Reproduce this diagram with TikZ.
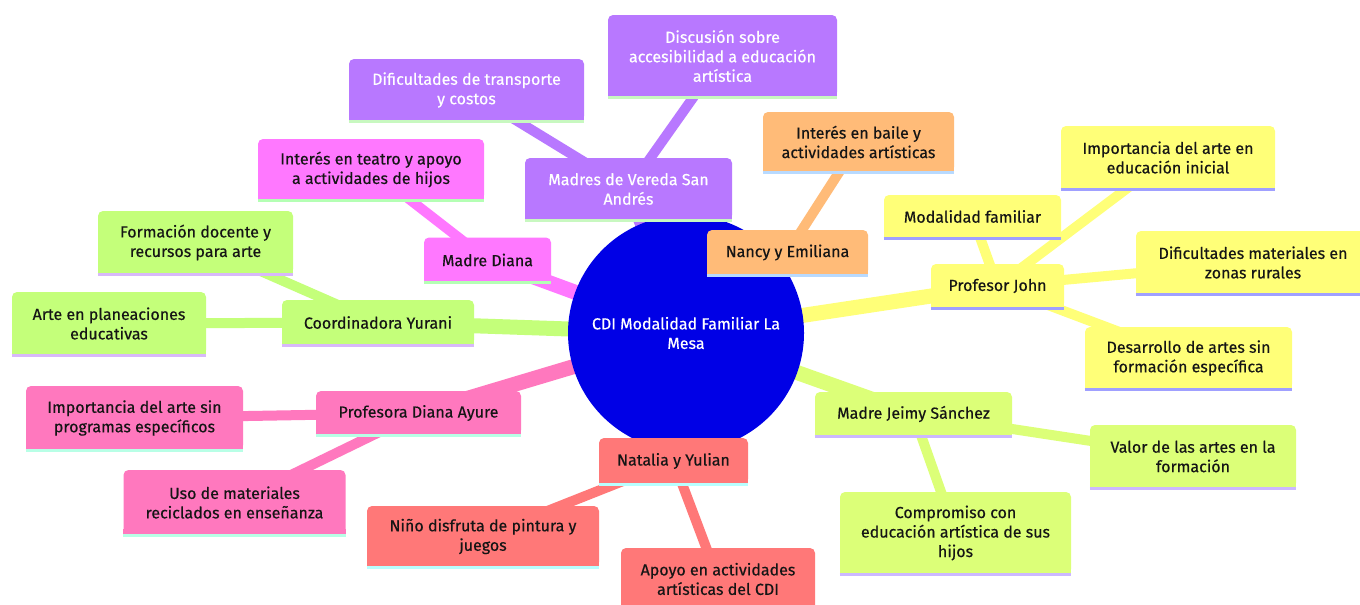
\documentclass[tikz,border=0pt]{standalone}
\usepackage{fontspec}
\setmainfont{Fira Sans}[FakeBold=0.4]
\usetikzlibrary{backgrounds}
\definecolor{cPur}{HTML}{B878FF}
\definecolor{cMag}{HTML}{FF78FF}
\definecolor{cGrn}{HTML}{C4FF7A}
\definecolor{cPnk}{HTML}{FF78BE}
\definecolor{cRed}{HTML}{FF7878}
\definecolor{cLim}{HTML}{DCFF78}
\definecolor{cYel}{HTML}{FFFF78}
\definecolor{cOrg}{HTML}{FFBB78}
\definecolor{cRoot}{HTML}{0000E6}
\definecolor{uPur}{HTML}{C8F8C0}
\definecolor{uMag}{HTML}{B4FFB4}
\definecolor{uGrn}{HTML}{D8B8FA}
\definecolor{uPnk}{HTML}{B8FFE6}
\definecolor{uRed}{HTML}{B8FFFF}
\definecolor{uLim}{HTML}{CCB8FF}
\definecolor{uYel}{HTML}{A0A0FF}
\definecolor{uOrg}{HTML}{B8DAFF}
\definecolor{txt}{HTML}{151515}
\tikzset{
  mm/.style={rectangle, rounded corners=5pt, inner sep=0pt, align=center,
    font=\fontsize{16pt}{19.5pt}\selectfont, text=txt},
  sPur/.style={fill=cPur, text=white},
  sMag/.style={fill=cMag},
  sGrn/.style={fill=cGrn},
  sPnk/.style={fill=cPnk},
  sRed/.style={fill=cRed},
  sLim/.style={fill=cLim},
  sYel/.style={fill=cYel},
  sOrg/.style={fill=cOrg},
  edgeA/.style={line width=15pt},
  edgeB/.style={line width=10pt},
  rootnode/.style={circle, fill=cRoot, text=white, inner sep=0pt, minimum size=236pt,
    align=center, font=\fontsize{16pt}{19.5pt}\selectfont}
}
% name, x, y, w, h, style, underline colour, text
\newcommand\mmn[8]{%
  \node[mm, #6, minimum width=#4pt, minimum height=#5pt] (#1) at (#2,#3) {#8};
  \fill[#6] ([yshift=6pt]#1.south west) rectangle (#1.south east);
  \draw[#7, line width=3pt] (#1.south west) -- (#1.south east);
}
\begin{document}
\begin{tikzpicture}[x=1pt,y=-1pt]
\useasboundingbox (0,0) rectangle (1360,605);

\node[rootnode] (root) at (686,333) {CDI Modalidad Familiar La\\Mesa};

\mmn{vereda}{628.5}{189}{207}{62}{sPur}{uPur}{Madres de Vereda San\\Andrés}
\mmn{transp}{466.5}{90}{235}{62}{sPur}{uPur}{Dificultades de transporte\\y costos}
\mmn{discus}{722.5}{56}{229}{82}{sPur}{uPur}{Discusión sobre\\accesibilidad a educación\\artística}

\mmn{mdiana}{487.5}{260}{127}{45}{sMag}{uMag}{Madre Diana}
\mmn{teatro}{371}{169.5}{226}{61}{sMag}{uMag}{Interés en teatro y apoyo\\a actividades de hijos}

\mmn{yurani}{378}{322.5}{192}{45}{sGrn}{uGrn}{Coordinadora Yurani}
\mmn{formac}{195.5}{242.5}{195}{63}{sGrn}{uGrn}{Formación docente y\\recursos para arte}
\mmn{planea}{109}{323.5}{194}{63}{sGrn}{uGrn}{Arte en planeaciones\\educativas}

\mmn{ayure}{418.5}{413}{205}{44}{sPnk}{uPnk}{Profesora Diana Ayure}
\mmn{imparte}{134.5}{418}{217}{64}{sPnk}{uPnk}{Importancia del arte sin\\programas específicos}
\mmn{recicl}{234.5}{502.5}{222}{65}{sPnk}{uPnk}{Uso de materiales\\reciclados en enseñanza}

\mmn{natalia}{673.5}{461}{149}{46}{sRed}{uRed}{Natalia y Yulian}
\mmn{nino}{483}{536.5}{232}{61}{sRed}{uRed}{Niño disfruta de pintura y\\juegos}
\mmn{apoyo}{718}{579}{194}{62}{sRed}{uRed}{Apoyo en actividades\\artísticas del CDI}

\mmn{jeimy}{913.5}{414}{197}{44}{sLim}{uLim}{Madre Jeimy Sánchez}
\mmn{valor}{1193}{456.5}{206}{63}{sLim}{uLim}{Valor de las artes en la\\formación}
\mmn{compro}{955.5}{533}{231}{82}{sLim}{uLim}{Compromiso con\\educación artística de sus\\hijos}

\mmn{john}{997.5}{286}{133}{44}{sYel}{uYel}{Profesor John}
\mmn{modal}{972.5}{216.5}{177}{43}{sYel}{uYel}{Modalidad familiar}
\mmn{impini}{1168}{157.5}{214}{63}{sYel}{uYel}{Importancia del arte en\\educación inicial}
\mmn{difmat}{1253}{262.5}{234}{63}{sYel}{uYel}{Dificultades materiales en\\zonas rurales}
\mmn{desarr}{1188.5}{358}{207}{62}{sYel}{uYel}{Desarrollo de artes sin\\formación específica}

\mmn{nancy}{787.5}{252.5}{161}{45}{sOrg}{uOrg}{Nancy y Emiliana}
\mmn{baile}{858.5}{142}{191}{60}{sOrg}{uOrg}{Interés en baile y\\actividades artísticas}

\begin{pgfonlayer}{background}
\fill[white] (0,0) rectangle (1360,605);
\draw[edgeA, cPur] (root.center) -- (vereda.center);
\draw[edgeA, cMag] (root.center) -- (mdiana.center);
\draw[edgeA, cGrn] (root.center) -- (yurani.center);
\draw[edgeA, cPnk] (root.center) -- (ayure.center);
\draw[edgeA, cRed] (root.center) -- (natalia.center);
\draw[edgeA, cLim] (root.center) -- (jeimy.center);
\draw[edgeA, cYel] (root.center) -- (john.center);
\draw[edgeA, cOrg] (root.center) -- (nancy.center);
\draw[edgeB, cPur] (vereda.center) -- (transp.center);
\draw[edgeB, cPur] (vereda.center) -- (discus.center);
\draw[edgeB, cMag] (mdiana.center) -- (teatro.center);
\draw[edgeB, cGrn] (yurani.center) -- (formac.center);
\draw[edgeB, cGrn] (yurani.center) -- (planea.center);
\draw[edgeB, cPnk] (ayure.center) -- (imparte.center);
\draw[edgeB, cPnk] (ayure.center) -- (recicl.center);
\draw[edgeB, cRed] (natalia.center) -- (nino.center);
\draw[edgeB, cRed] (natalia.center) -- (apoyo.center);
\draw[edgeB, cLim] (jeimy.center) -- (valor.center);
\draw[edgeB, cLim] (jeimy.center) -- (compro.center);
\draw[edgeB, cYel] (john.center) -- (modal.center);
\draw[edgeB, cYel] (john.center) -- (impini.center);
\draw[edgeB, cYel] (john.center) -- (difmat.center);
\draw[edgeB, cYel] (john.center) -- (desarr.center);
\draw[edgeB, cOrg] (nancy.center) -- (baile.center);
\end{pgfonlayer}
\end{tikzpicture}
\end{document}
